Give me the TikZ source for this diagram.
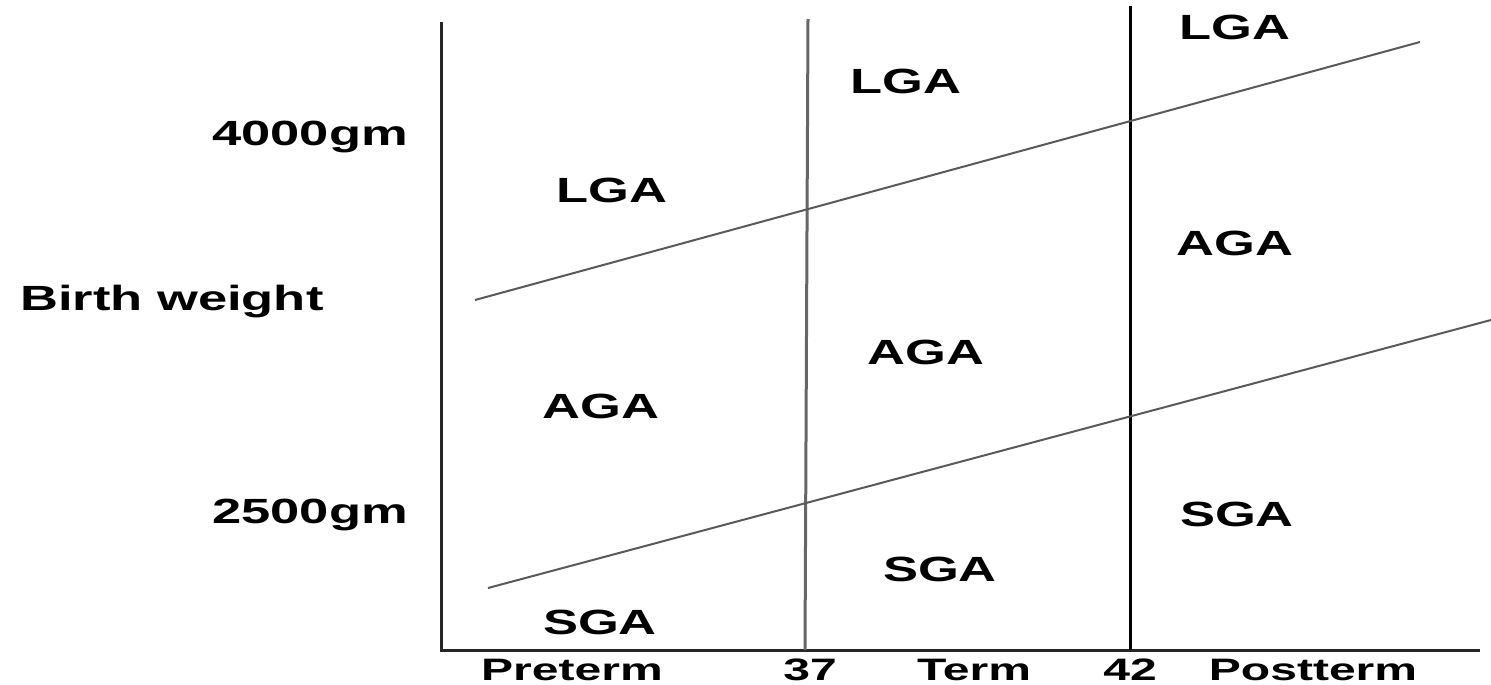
\documentclass[tikz,border=0pt]{standalone}
\usepackage{fontspec}
\setmainfont{Liberation Sans}
\newfontfamily\regfont[FakeStretch=1.5]{Liberation Sans}
\newfontfamily\botfont[FakeStretch=1.55]{Liberation Sans}
\begin{document}
\begin{tikzpicture}[x=1pt,y=-1pt,
  region/.style={inner sep=0pt, anchor=base, font=\regfont\bfseries\fontsize{35}{40}\selectfont},
  axlabel/.style={inner sep=0pt, font=\regfont\bfseries\fontsize{35}{40}\selectfont},
  botlabel/.style={inner sep=0pt, anchor=base, font=\botfont\bfseries\fontsize{31}{36}\selectfont},
  axisline/.style={line width=3pt, draw=black!85},
  divline/.style={line width=3pt},
  diag/.style={line width=2pt, draw=black!65}]
\useasboundingbox (0,0) rectangle (1491,685);
% axes
\coordinate (ytop) at (441,22);
\coordinate (orig) at (441,650);
\coordinate (xend) at (1480,650);
\draw[axisline] (ytop) -- (orig) -- (xend);
% dividers
\coordinate (d37t) at (808,19);
\coordinate (d37b) at (805,650);
\coordinate (d42t) at (1130,6);
\coordinate (d42b) at (1130,650);
\draw[divline, draw=black!60] (d37t) -- (d37b);
\draw[divline, draw=black] (d42t) -- (d42b);
% diagonals
\coordinate (u1) at (475,300);
\coordinate (u2) at (1420,42);
\coordinate (l1) at (488,588);
\coordinate (l2) at (1491,320);
\draw[diag] (u1) -- (u2);
\draw[diag] (l1) -- (l2);
% y labels
\node[axlabel, anchor=base east] (w4000) at (408,145) {4000gm};
\node[axlabel, anchor=base west] (bw) at (20,310) {Birth weight};
\node[axlabel, anchor=base east] (w2500) at (408,523) {2500gm};
% regions
\node[region] (lga1) at (612,202) {LGA};
\node[region] (lga2) at (906,93) {LGA};
\node[region] (lga3) at (1235,40) {LGA};
\node[region] (aga1) at (601,418) {AGA};
\node[region] (aga2) at (926,364) {AGA};
\node[region] (aga3) at (1235,255) {AGA};
\node[region] (sga1) at (600,634) {SGA};
\node[region] (sga2) at (940,581) {SGA};
\node[region] (sga3) at (1237,526) {SGA};
% x labels
\node[botlabel] (pre) at (572,680) {Preterm};
\node[botlabel] (g37) at (810,680) {37};
\node[botlabel] (term) at (974,680) {Term};
\node[botlabel] (g42) at (1130,680) {42};
\node[botlabel] (post) at (1313,680) {Postterm};
\end{tikzpicture}
\end{document}
